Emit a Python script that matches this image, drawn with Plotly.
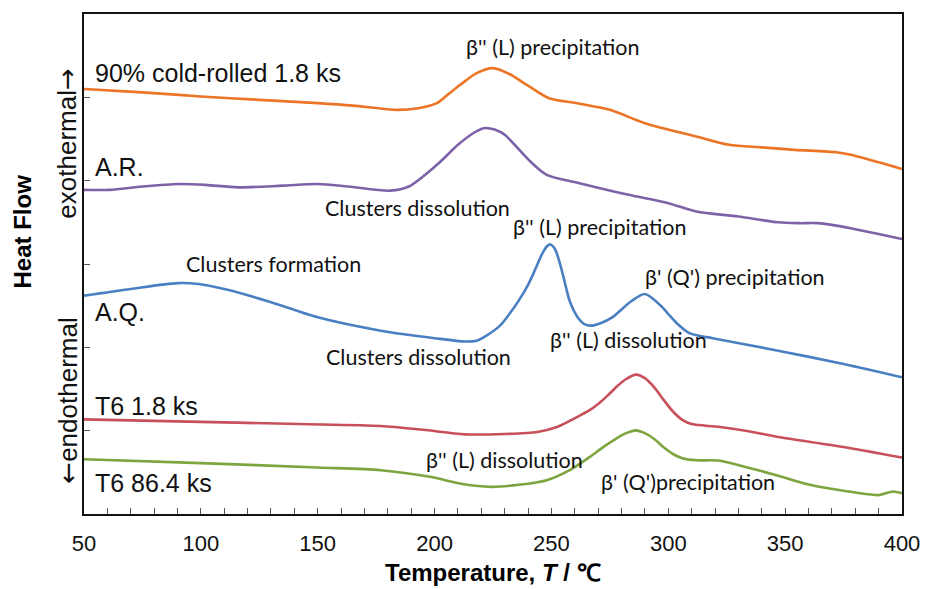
import plotly.graph_objects as go

# DSC traces: temperature (°C) and offset heat flow (arbitrary units)
t_cr = [50, 75, 100, 125, 150, 165, 184, 193, 201, 206, 211, 218, 225, 232, 240, 249, 261, 275, 290, 312, 326, 340, 354, 372, 378, 390, 400]
hf_cr = [5.10, 5.06, 5.01, 4.97, 4.93, 4.90, 4.85, 4.87, 4.93, 5.04, 5.15, 5.29, 5.35, 5.28, 5.14, 4.99, 4.93, 4.85, 4.69, 4.53, 4.43, 4.40, 4.37, 4.34, 4.31, 4.22, 4.14]

t_ar = [50, 61, 75, 91, 102, 116, 135, 150, 163, 181, 189, 201, 210, 216, 221, 226, 230, 241, 248, 262, 283, 300, 312, 330, 347, 356, 364, 378, 390, 400]
hf_ar = [3.89, 3.89, 3.93, 3.96, 3.95, 3.92, 3.94, 3.96, 3.93, 3.88, 3.93, 4.19, 4.43, 4.56, 4.63, 4.61, 4.55, 4.23, 4.07, 3.97, 3.83, 3.73, 3.63, 3.57, 3.50, 3.49, 3.49, 3.43, 3.36, 3.30]

t_aq = [50, 70, 90, 99, 110, 128, 150, 177, 200, 213, 218, 221, 228, 232, 236, 240, 243, 246, 248, 249.5, 251.5, 253.5, 255, 258, 261, 264, 267, 271, 276, 284, 290, 297.5, 300, 304, 309, 313, 319, 347, 375, 400]
hf_aq = [2.62, 2.70, 2.77, 2.76, 2.70, 2.56, 2.36, 2.20, 2.11, 2.07, 2.08, 2.12, 2.26, 2.40, 2.56, 2.75, 2.93, 3.12, 3.21, 3.235, 3.18, 3.02, 2.86, 2.54, 2.37, 2.28, 2.26, 2.29, 2.36, 2.55, 2.64, 2.48, 2.40, 2.28, 2.17, 2.14, 2.11, 1.96, 1.80, 1.64]

t_t6s = [50, 100, 142, 177, 195, 213, 230, 244, 252, 260.7, 266, 270, 274, 278, 282, 286.2, 290, 294, 298, 302, 306, 310, 316, 323, 335, 347, 375, 400]
hf_t6s = [1.135, 1.105, 1.08, 1.056, 1.01, 0.956, 0.96, 0.984, 1.04, 1.16, 1.24, 1.32, 1.42, 1.53, 1.62, 1.673, 1.63, 1.52, 1.37, 1.23, 1.13, 1.08, 1.06, 1.04, 0.99, 0.924, 0.804, 0.677]

t_t6l = [50, 100, 150, 177, 198, 212, 224, 236, 248, 258, 266.4, 272, 277.7, 282, 286, 290, 294, 298, 302, 306, 312, 322, 333, 347, 361, 375, 390, 396, 400]
hf_t6l = [0.657, 0.61, 0.558, 0.526, 0.446, 0.36, 0.326, 0.35, 0.406, 0.53, 0.685, 0.80, 0.905, 0.97, 1.004, 0.97, 0.90, 0.80, 0.72, 0.67, 0.645, 0.64, 0.565, 0.46, 0.347, 0.28, 0.227, 0.27, 0.25]

series = [
    (t_cr, hf_cr, "#EC7426"),
    (t_ar, hf_ar, "#7E62A8"),
    (t_aq, hf_aq, "#4A80C2"),
    (t_t6s, hf_t6s, "#C8505A"),
    (t_t6l, hf_t6l, "#7DA43F"),
]

# Sample labels (left side) and peak assignments
sample_labels = ["90% cold-rolled 1.8 ks", "A.R.", "A.Q.", "T6 1.8 ks", "T6 86.4 ks"]
sample_label_y = [5.29, 4.17, 2.43, 1.30, 0.37]

peak_texts = ["β'' (L) precipitation", "Clusters dissolution", "β'' (L) precipitation",
              "Clusters formation", "β' (Q') precipitation", "Clusters dissolution",
              "β'' (L) dissolution", "β'' (L) dissolution", "β' (Q')precipitation"]
peak_x = [250.5, 192.7, 270.5, 131.1, 328.7, 193.2, 283.0, 230.1, 308.5]
peak_y = [5.60, 3.67, 3.45, 3.00, 2.85, 1.89, 2.09, 0.65, 0.38]

fig = go.Figure()
for t, hf, col in series:
    fig.add_trace(go.Scatter(x=t, y=hf, mode="lines",
                             line=dict(color=col, width=2.6, shape="spline", smoothing=0.8),
                             showlegend=False, hoverinfo="skip"))

ann = []
for txt, yv in zip(sample_labels, sample_label_y):
    ann.append(dict(x=53.8, y=yv, xref="x", yref="y", text=txt, showarrow=False,
                    xanchor="left", yanchor="middle",
                    font=dict(family="Liberation Sans, Arial", size=25, color="#111")))
for txt, xv, yv in zip(peak_texts, peak_x, peak_y):
    ann.append(dict(x=xv, y=yv, xref="x", yref="y", text=txt, showarrow=False,
                    xanchor="center", yanchor="middle",
                    font=dict(family="Lato, sans-serif", size=21.5, color="#111")))

# Axis titles and direction hints
arrow_span = "<span style='font-family:DejaVu Sans'>{}</span>"
ann.append(dict(x=-0.0752, y=0.566, xref="paper", yref="paper", text="<b>Heat Flow</b>",
                textangle=-90, showarrow=False, xanchor="center", yanchor="middle",
                font=dict(family="Liberation Sans, Arial", size=24, color="#000")))
ann.append(dict(x=-0.0218, y=0.741, xref="paper", yref="paper",
                text="exothermal" + arrow_span.format("→"),
                textangle=-90, showarrow=False, xanchor="center", yanchor="middle",
                font=dict(family="Liberation Sans, Arial", size=26, color="#111")))
ann.append(dict(x=-0.0206, y=0.227, xref="paper", yref="paper",
                text=arrow_span.format("←") + "endothermal",
                textangle=-90, showarrow=False, xanchor="center", yanchor="middle",
                font=dict(family="Liberation Sans, Arial", size=26, color="#111")))
ann.append(dict(x=0.5006, y=-0.1175, xref="paper", yref="paper",
                text="<b>Temperature, <i>T</i> / ℃</b>", showarrow=False,
                xanchor="center", yanchor="middle",
                font=dict(family="Liberation Sans, Arial", size=24, color="#000")))

fig.update_layout(
    width=932, height=589,
    margin=dict(l=84, r=24, t=12, b=75),
    paper_bgcolor="white", plot_bgcolor="white",
    annotations=ann,
    xaxis=dict(range=[50, 400], tickvals=[50, 100, 150, 200, 250, 300, 350, 400],
               ticks="inside", ticklen=6, tickwidth=1, tickcolor="#555",
               minor=dict(dtick=10, ticks="inside", ticklen=6, tickwidth=1, tickcolor="#555"),
               showline=True, linecolor="#111", linewidth=2, mirror=True,
               showgrid=False, zeroline=False, ticklabelstandoff=9,
               tickfont=dict(family="Liberation Sans, Arial", size=22, color="#111")),
    yaxis=dict(range=[0, 6], tickvals=[1, 2, 3, 4, 5], showticklabels=False,
               ticks="inside", ticklen=6, tickwidth=1, tickcolor="#555",
               showline=True, linecolor="#111", linewidth=2, mirror=True,
               showgrid=False, zeroline=False),
)

fig.write_html("out.html")
